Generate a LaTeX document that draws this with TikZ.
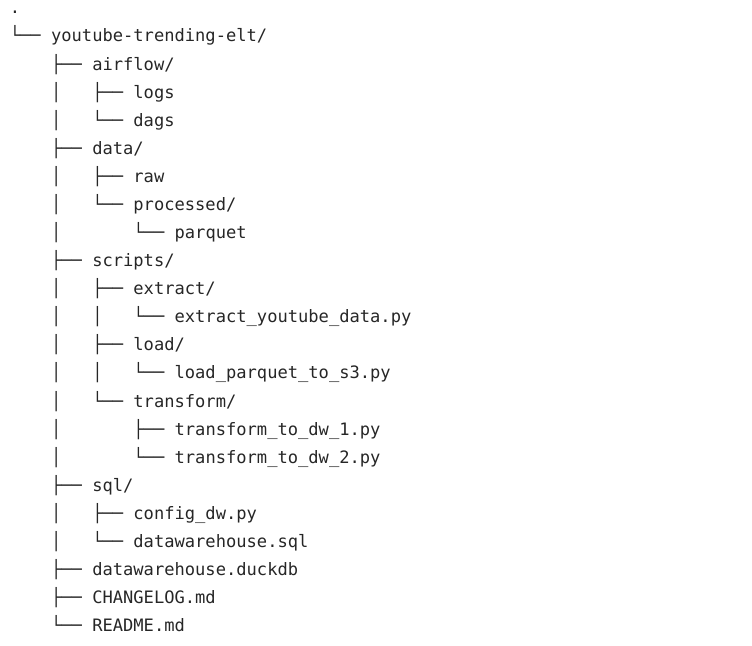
\documentclass[tikz,border=0pt]{standalone}
\usepackage{fontspec}
\setmonofont{DejaVu Sans Mono}
\usetikzlibrary{positioning}

\begin{document}
\begin{tikzpicture}[
				x=1bp, y=1bp,
				node distance=28.08bp,
				entry/.style={anchor=base west, inner sep=0pt, outer sep=0pt, text=black!85,
					font=\ttfamily\fontsize{17.1bp}{20bp}\selectfont},
				under/.style={entry, below=of #1.base west, anchor=base west}
				]
				\useasboundingbox (0,0) rectangle (752,-646);
				\node[entry] (root) at (9.9,-13.9) {.};
				\node[under=root] (project) {└──~youtube-trending-elt/};
				% airflow
				\node[under=project] (airflow) {~~~~├──~airflow/};
				\node[under=airflow] (logs) {~~~~│~~~├──~logs};
				\node[under=logs] (dags) {~~~~│~~~└──~dags};
				% data
				\node[under=dags] (data) {~~~~├──~data/};
				\node[under=data] (raw) {~~~~│~~~├──~raw};
				\node[under=raw] (processed) {~~~~│~~~└──~processed/};
				\node[under=processed] (parquet) {~~~~│~~~~~~~└──~parquet};
				% scripts
				\node[under=parquet] (scripts) {~~~~├──~scripts/};
				\node[under=scripts] (extract) {~~~~│~~~├──~extract/};
				\node[under=extract] (extractpy) {~~~~│~~~│~~~└──~extract\_youtube\_data.py};
				\node[under=extractpy] (load) {~~~~│~~~├──~load/};
				\node[under=load] (loadpy) {~~~~│~~~│~~~└──~load\_parquet\_to\_s3.py};
				\node[under=loadpy] (transform) {~~~~│~~~└──~transform/};
				\node[under=transform] (dwone) {~~~~│~~~~~~~├──~transform\_to\_dw\_1.py};
				\node[under=dwone] (dwtwo) {~~~~│~~~~~~~└──~transform\_to\_dw\_2.py};
				% sql
				\node[under=dwtwo] (sql) {~~~~├──~sql/};
				\node[under=sql] (configdw) {~~~~│~~~├──~config\_dw.py};
				\node[under=configdw] (dwsql) {~~~~│~~~└──~datawarehouse.sql};
				% top-level files
				\node[under=dwsql] (duckdb) {~~~~├──~datawarehouse.duckdb};
				\node[under=duckdb] (changelog) {~~~~├──~CHANGELOG.md};
				\node[under=changelog] (readme) {~~~~└──~README.md};
			\end{tikzpicture}
\end{document}
